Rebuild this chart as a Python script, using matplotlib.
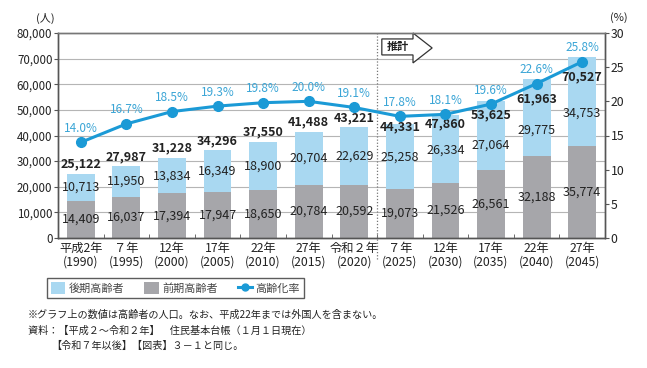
import matplotlib
matplotlib.use("Agg")
import matplotlib.pyplot as plt
from matplotlib.patches import Patch, Polygon
from matplotlib.lines import Line2D
import numpy as np

plt.rcParams['font.family'] = ['Noto Sans CJK JP', 'DejaVu Sans']

# ---- data ----
categories = ["平成2年\n(1990)", "７年\n(1995)", "12年\n(2000)", "17年\n(2005)",
              "22年\n(2010)", "27年\n(2015)", "令和２年\n(2020)", "７年\n(2025)",
              "12年\n(2030)", "17年\n(2035)", "22年\n(2040)", "27年\n(2045)"]
zenki = [14409, 16037, 17394, 17947, 18650, 20784, 20592, 19073, 21526, 26561, 32188, 35774]
kouki = [10713, 11950, 13834, 16349, 18900, 20704, 22629, 25258, 26334, 27064, 29775, 34753]
totals = [25122, 27987, 31228, 34296, 37550, 41488, 43221, 44331, 47860, 53625, 61963, 70527]
rate = [14.0, 16.7, 18.5, 19.3, 19.8, 20.0, 19.1, 17.8, 18.1, 19.6, 22.6, 25.8]
left_ticks = [0, 10000, 20000, 30000, 40000, 50000, 60000, 70000, 80000]
right_ticks = [0, 5, 10, 15, 20, 25, 30]

# ---- label offsets (points) ----
total_off = [7, 7, 7, 7, 7, 7, 7, -2, -6, -10, -14, -14]
kouki_off = [0, 0, 0, 0, 0, 0, 0, 0, -1, -7, -9, -8]

C_LB = '#a9d8f1'
C_GR = '#a6a6aa'
C_LINE = '#1b9ad6'
C_PCT = '#3aa5d6'
C_TXT = '#222222'
C_AX = '#555555'

fig = plt.figure(figsize=(6.47, 3.68), dpi=100)
ax = fig.add_axes([58/647, 1-238/368, 547/647, 205/368])
x = np.arange(len(categories))
w = 0.61
ax.bar(x, zenki, width=w, color=C_GR, zorder=2)
ax.bar(x, kouki, width=w, bottom=zenki, color=C_LB, zorder=2)

ax.set_xlim(-0.5, len(categories)-0.5)
ax.set_ylim(0, 80000)
ax.set_yticks(left_ticks)
ax.set_yticklabels([f"{v:,}" for v in left_ticks])
ax.yaxis.grid(True, color='#b5b5b5', lw=0.8, zorder=0)
ax.set_axisbelow(True)
ax.set_xticks(x)
ax.set_xticklabels(categories, linespacing=1.05)
ax.set_xticks(np.arange(len(categories)+1) - 0.5, minor=True)
ax.tick_params(axis='x', which='major', length=0, labelsize=8.8, colors=C_TXT, pad=3)
ax.tick_params(axis='x', which='minor', direction='in', length=3, color=C_AX)
ax.tick_params(axis='y', direction='out', length=3, labelsize=8.3, colors=C_TXT, color=C_AX, pad=1)
for s in ax.spines.values():
    s.set_color(C_AX)
    s.set_linewidth(1.0)
ax.spines['top'].set_color('#777777')

for i in range(len(categories)):
    ax.annotate(f"{zenki[i]:,}", (x[i], zenki[i]/2), ha='center', va='center',
                fontsize=9, color=C_TXT, zorder=5)
    ax.annotate(f"{kouki[i]:,}", (x[i], zenki[i] + kouki[i]/2), xytext=(0, kouki_off[i]),
                textcoords='offset points', ha='center', va='center', fontsize=9, color=C_TXT, zorder=5)
    ax.annotate(f"{totals[i]:,}", (x[i], totals[i]), xytext=(0, total_off[i]),
                textcoords='offset points', ha='center', va='center', fontsize=9,
                fontweight='bold', color=C_TXT, zorder=5)

# dotted separator between actual and projected
ax.plot([6.5, 6.5], [-0.1, 1.0], transform=ax.get_xaxis_transform(), color='#777777',
        lw=0.9, ls=(0, (1, 1.5)), clip_on=False, zorder=3)

# 推計 arrow
arrow = Polygon([(0.592, 0.971), (0.649, 0.971), (0.649, 1.0), (0.684, 0.927),
                 (0.649, 0.854), (0.649, 0.893), (0.592, 0.893)], closed=True,
                transform=ax.transAxes, facecolor='white', edgecolor='#333333', lw=0.9,
                zorder=6, clip_on=False)
ax.add_patch(arrow)
ax.text(0.621, 0.932, "推計", transform=ax.transAxes, ha='center', va='center',
        fontsize=8, fontweight='bold', color=C_TXT, zorder=7)

ax2 = ax.twinx()
ax2.set_ylim(0, 30)
ax2.set_yticks(right_ticks)
ax2.plot(x, rate, color=C_LINE, lw=2.2, marker='o', ms=7, zorder=4)
for i in range(len(categories)):
    ax2.annotate(f"{rate[i]:.1f}%", (x[i], rate[i]), xytext=(0, 10), textcoords='offset points',
                 ha='center', va='center', fontsize=8.5, color=C_PCT)
ax2.tick_params(axis='y', direction='out', length=3, labelsize=8.8, colors=C_TXT, color=C_AX, pad=1)
for s in ax2.spines.values():
    s.set_color(C_AX)
    s.set_linewidth(1.0)
ax2.spines['top'].set_color('#777777')

fig.text(45/647, 1-18/368, "(人)", ha='center', va='center', fontsize=8, color=C_TXT)
fig.text(619/647, 1-18/368, "(%)", ha='center', va='center', fontsize=8, color=C_TXT)

handles = [Patch(facecolor=C_LB, edgecolor='none'), Patch(facecolor=C_GR, edgecolor='none'),
           Line2D([], [], color=C_LINE, lw=2.2, marker='o', ms=5)]
labels = ["後期高齢者", "前期高齢者", "高齢化率"]
leg = fig.legend(handles, labels, loc='center left', bbox_to_anchor=(47/647, 1-288/368),
                 ncol=3, frameon=True, fancybox=False, edgecolor='#333333', fontsize=8,
                 handlelength=1.3, handleheight=1.3, handletextpad=0.3, columnspacing=1.8,
                 borderpad=0.35, borderaxespad=0)
leg.get_frame().set_linewidth(1.0)
for t in leg.get_texts():
    t.set_color('#444444')

fig.text(28/647, 1-315/368, "※グラフ上の数値は高齢者の人口。なお、平成22年までは外国人を含まない。",
         ha='left', va='center', fontsize=7.3, color=C_TXT)
fig.text(28/647, 1-331/368, "資料：【平成２～令和２年】　住民基本台帳（１月１日現在）",
         ha='left', va='center', fontsize=7.3, color=C_TXT)
fig.text(51/647, 1-346/368, "【令和７年以後】【図表】３－１と同じ。",
         ha='left', va='center', fontsize=7.3, color=C_TXT)

fig.savefig("out.png", dpi=100)
